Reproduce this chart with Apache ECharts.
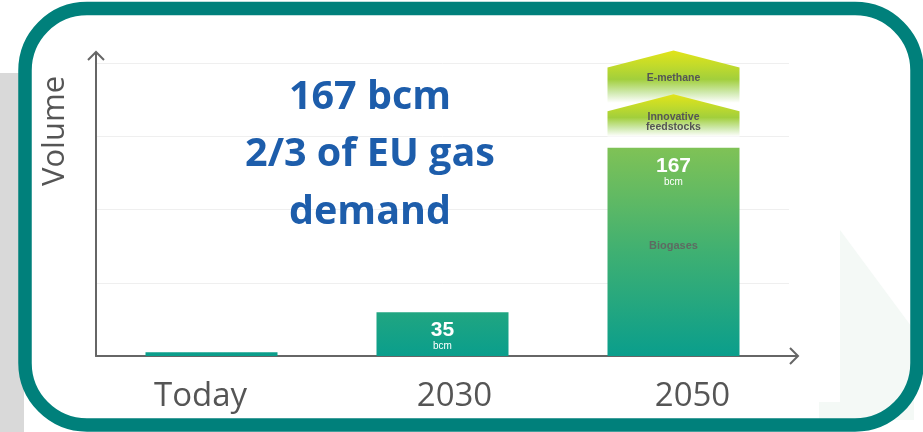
<!DOCTYPE html>
<html>
<head>
<meta charset="utf-8">
<script src="https://cdn.jsdelivr.net/npm/echarts@6/dist/echarts.min.js"></script>
<style>
html,body{margin:0;padding:0;background:#fff;}
#chart{width:923px;height:432px;}
</style>
</head>
<body>
<div id="chart"></div>
<script>
// ---- data ----
var categories = ['Today', '2030', '2050'];
var categoryLabelShift = [-11, 12, 19];
var biogasValues = [3, 35, 167];
var barValueLabels = ['', '35', '167'];
var barUnit = 'bcm';
var barNameLabels = ['', '', 'Biogases'];
// upper 2050 layers: [category index, base value, peak value, label]
var layerNames = ['E-methane', 'Innovative\nfeedstocks'];
var layerCategory = [2, 2];
var layerBase = [203, 176];
var layerPeak = [245, 210];
var yMin = 0, yMax = 235, yInterval = 58.75;
var bigText = ['167 bcm', '2/3 of EU gas', 'demand'];
var axisTitle = 'Volume';

var chart = echarts.init(document.getElementById('chart'), null, {renderer: 'canvas'});

var BAR_W = 132;
var layerData = layerNames.map(function (n, i) {
  return [layerCategory[i], layerBase[i], layerPeak[i], n];
});
var categoryData = categories.map(function (c, i) {
  var s = categoryLabelShift[i];
  return {value: c, textStyle: {padding: s >= 0 ? [0, 0, 0, 2 * s] : [0, -2 * s, 0, 0]}};
});

var option = {
  animation: false,
  backgroundColor: '#ffffff',
  grid: {left: 96, right: 134, top: 63, bottom: 76, containLabel: false},
  xAxis: {
    type: 'category',
    data: categoryData,
    axisTick: {show: false},
    axisLine: {show: true, lineStyle: {color: '#666', width: 2}},
    axisLabel: {color: '#555', fontSize: 33, fontFamily: 'Open Sans', margin: 24}
  },
  yAxis: {
    type: 'value',
    min: yMin, max: yMax, interval: yInterval,
    axisLabel: {show: false},
    axisTick: {show: false},
    axisLine: {show: true, lineStyle: {color: '#666', width: 2}},
    splitLine: {lineStyle: {color: '#efefef', width: 1}}
  },
  graphic: [
    {type: 'rect', z: -10, shape: {x: 0, y: 73, width: 24, height: 359}, style: {fill: '#d9d9d9'}},
    {type: 'polygon', z: -9, shape: {points: [[840,230],[914,330],[914,420],[819,420],[819,402],[840,402]]}, style: {fill: '#f4f9f6'}},
    {type: 'rect', z: -5, shape: {x: 25, y: 8.5, width: 892, height: 416.5, r: 62}, style: {fill: 'none', stroke: '#00807b', lineWidth: 13.5}},
    {type: 'polyline', z: 5, shape: {points: [[96,64],[96,52]]}, style: {stroke: '#666', lineWidth: 2, fill: 'none'}},
    {type: 'polyline', z: 5, shape: {points: [[88,60],[96,52],[104,60]]}, style: {stroke: '#666', lineWidth: 2, fill: 'none'}},
    {type: 'polyline', z: 5, shape: {points: [[788,356],[798,356]]}, style: {stroke: '#666', lineWidth: 2, fill: 'none'}},
    {type: 'polyline', z: 5, shape: {points: [[790,348],[798,356],[790,364]]}, style: {stroke: '#666', lineWidth: 2, fill: 'none'}},
    {type: 'text', z: 5, x: 55, y: 131, rotation: Math.PI / 2,
      style: {text: axisTitle, fontSize: 31, fontFamily: 'Open Sans', fill: '#555', align: 'center', verticalAlign: 'middle'}},
    {type: 'text', z: 5, x: 370, y: 155,
      style: {text: bigText.join('\n'), fontSize: 39.5, fontWeight: 'bold', fontFamily: 'Open Sans', fill: '#1d5dab',
        align: 'center', verticalAlign: 'middle', lineHeight: 57.5}}
  ],
  series: [
    {
      type: 'bar',
      name: 'Biogases',
      barWidth: BAR_W,
      data: biogasValues,
      itemStyle: {
        color: new echarts.graphic.LinearGradient(0, 148, 0, 356, [
          {offset: 0, color: '#7fc256'},
          {offset: 0.5, color: '#3fb072'},
          {offset: 1, color: '#0a9e8c'}
        ], true)
      },
      label: {
        show: true,
        position: 'insideTop',
        distance: 8,
        formatter: function (p) {
          var v = barValueLabels[p.dataIndex];
          if (!v) return '';
          var s = '{v|' + v + '}\n{u|' + barUnit + '}';
          if (barNameLabels[p.dataIndex]) s += '\n{gap| }\n{n|' + barNameLabels[p.dataIndex] + '}';
          return s;
        },
        rich: {
          v: {color: '#fff', fontSize: 21, fontWeight: 'bold', fontFamily: 'Liberation Sans', lineHeight: 20, align: 'center'},
          u: {color: '#fff', fontSize: 10, fontFamily: 'Liberation Sans', lineHeight: 12, align: 'center'},
          gap: {fontSize: 10, lineHeight: 51},
          n: {color: '#5e6a62', fontSize: 11, fontWeight: 'bold', fontFamily: 'Liberation Sans', lineHeight: 14, align: 'center'}
        }
      }
    },
    {
      type: 'custom',
      data: layerData,
      clip: false,
      renderItem: function (params, api) {
        var ci = api.value(0);
        var b = api.coord([ci, api.value(1)]);
        var t = api.coord([ci, api.value(2)]);
        var x = b[0], hw = BAR_W / 2, tip = 17;
        var name = layerData[params.dataIndex][3];
        return {
          type: 'group',
          children: [
            {type: 'polygon',
              shape: {points: [[x - hw, b[1]], [x + hw, b[1]], [x + hw, t[1] + tip], [x, t[1]], [x - hw, t[1] + tip]]},
              style: {fill: new echarts.graphic.LinearGradient(0, 0, 0, 1, [
                {offset: 0, color: '#e2e419'},
                {offset: 0.3, color: '#c0da2c'},
                {offset: 0.55, color: '#a2cf3c'},
                {offset: 0.8, color: '#cfe9ad'},
                {offset: 1, color: '#ffffff'}
              ])}},
            {type: 'text', x: x, y: t[1] + 28,
              style: {text: name, fontSize: 10.5, fontWeight: 'bold', fontFamily: 'Liberation Sans', fill: '#555',
                align: 'center', verticalAlign: 'middle', lineHeight: 10.5}}
          ]
        };
      }
    }
  ]
};
chart.setOption(option);
</script>
</body>
</html>
